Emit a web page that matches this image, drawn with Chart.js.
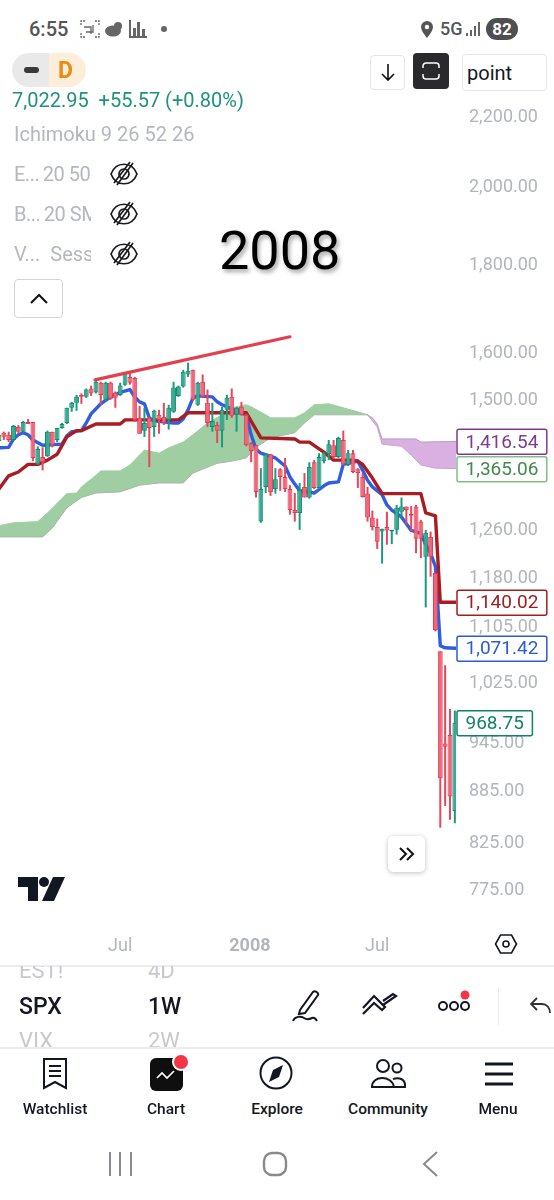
<!DOCTYPE html>
<html><head><meta charset="utf-8">
<script src="https://cdn.jsdelivr.net/npm/chart.js@4"></script>
<style>
html,body{margin:0;padding:0;background:#fff}
#page{position:relative;width:554px;height:1200px;overflow:hidden;background:#fff;font-family:Roboto,sans-serif}
#c{position:absolute;left:0;top:60px}
.t{position:absolute;white-space:nowrap;line-height:1}
.g{color:#b4b7bf;font-size:20px}
.box{position:absolute;box-sizing:border-box;background:#fff;border:1.5px solid #e6e6e8;border-radius:4px}
.nav{position:absolute;top:1102px;font-size:15.5px;font-weight:500;color:#131722;transform:translateX(-50%);white-space:nowrap;line-height:1}
svg{position:absolute;overflow:visible}
</style></head>
<body><div id="page">
<canvas id="c" width="554" height="900"></canvas>

<div class="t" style="left:29px;top:19px;font-size:20px;font-weight:500;color:#555">6:55</div>
<svg style="left:81px;top:20px" width="18" height="18" fill="none" stroke="#666" stroke-width="1.3"><path d="M0 5V1h4M14 1h4v4M18 13v4h-4M4 17H0v-4" stroke-dasharray="2 1"/><path d="M5 12h7V5M3 7h7v7"/></svg>
<svg style="left:105px;top:21px" width="20" height="16" fill="#666"><ellipse cx="8" cy="10" rx="8" ry="5.5"/><circle cx="13" cy="5" r="4"/></svg>
<svg style="left:129px;top:20px" width="18" height="18" fill="#666"><rect x="0" y="0" width="2" height="18"/><rect x="4" y="8" width="3" height="8"/><rect x="8" y="2" width="3" height="14"/><rect x="13" y="9" width="3" height="7"/><rect x="0" y="16" width="18" height="2"/></svg>
<svg style="left:161px;top:26px" width="6" height="6"><circle cx="3" cy="3" r="3" fill="#666"/></svg>
<svg style="left:420px;top:21px" width="14" height="17"><path d="M7 0a6 6 0 0 1 6 6c0 4-6 11-6 11S1 10 1 6a6 6 0 0 1 6-6z" fill="#555"/><circle cx="7" cy="6" r="2.2" fill="#fff"/></svg>
<div class="t" style="left:440px;top:20px;font-size:18px;font-weight:500;color:#555">5G</div>
<svg style="left:466px;top:21px" width="16" height="16" fill="#666"><rect x="0" y="12" width="2" height="3"/><rect x="4" y="9" width="2" height="6"/><rect x="8" y="5" width="2" height="10"/><rect x="12" y="1" width="2" height="14"/></svg>
<div class="t" style="left:486px;top:18px;width:32px;height:22px;border-radius:11px;background:#4f4f4f;color:#fff;font-size:17px;font-weight:700;line-height:22px;text-align:center">82</div>

<div style="position:absolute;left:12px;top:53px;width:37px;height:34px;background:#e9e9ea;border-radius:17px 0 0 17px"></div>
<div style="position:absolute;left:49px;top:53px;width:37px;height:34px;background:#fdeeda;border-radius:0 17px 17px 0"></div>
<div style="position:absolute;left:24px;top:67px;width:15px;height:6px;background:#3a3a3c;border-radius:3px"></div>
<div class="t" style="left:58px;top:59px;font-size:23px;font-weight:700;color:#ea8a14">D</div>
<div class="t" style="left:12px;top:90px;font-size:20px;color:#1f9278">7,022.95&nbsp; +55.57 (+0.80%)</div>
<div class="t g" style="left:14px;top:124px">Ichimoku 9 26 52 26</div>
<div class="t g" style="left:14px;top:164px;width:77px;overflow:hidden;letter-spacing:-.5px">E...&thinsp;20 50</div>
<div class="t g" style="left:14px;top:204px;width:77px;overflow:hidden;letter-spacing:-.5px">B...&thinsp;20 SM</div>
<div class="t g" style="left:14px;top:244px;width:77px;overflow:hidden">V...&nbsp; Sess</div>
<svg style="left:110px;top:162px" width="28" height="24" fill="none" stroke="#1b1b1f" stroke-width="1.7"><path d="M1 12C6 -1 22 -1 27 12 22 25 6 25 1 12z"/><circle cx="14" cy="12" r="5"/><path d="M7 23L23 1M4 21L20 0"/></svg>
<svg style="left:110px;top:202px" width="28" height="24" fill="none" stroke="#1b1b1f" stroke-width="1.7"><path d="M1 12C6 -1 22 -1 27 12 22 25 6 25 1 12z"/><circle cx="14" cy="12" r="5"/><path d="M7 23L23 1M4 21L20 0"/></svg>
<svg style="left:110px;top:242px" width="28" height="24" fill="none" stroke="#1b1b1f" stroke-width="1.7"><path d="M1 12C6 -1 22 -1 27 12 22 25 6 25 1 12z"/><circle cx="14" cy="12" r="5"/><path d="M7 23L23 1M4 21L20 0"/></svg>
<div class="box" style="left:14px;top:279px;width:49px;height:39px;border-color:#d4d4d6"></div>
<svg style="left:30px;top:293px" width="18" height="11" fill="none" stroke="#111" stroke-width="2"><path d="M1 10L9 2l8 8"/></svg>
<div class="t" style="left:219px;top:224px;font-size:54px;color:#000;text-shadow:2px 3px 4px rgba(0,0,0,.35)">2008</div>

<div class="box" style="left:370px;top:55px;width:35px;height:35px"></div>
<svg style="left:381px;top:64px" width="14" height="18" fill="none" stroke="#111" stroke-width="1.6"><path d="M7 0v16M1 10l6 6 6-6"/></svg>
<div style="position:absolute;left:413px;top:53px;width:36px;height:36px;border-radius:4px;background:#2a2a2c"></div>
<svg style="left:422px;top:62px" width="18" height="18" fill="none" stroke="#fff" stroke-width="1.5"><path d="M1 6V4a3 3 0 0 1 3-3h10a3 3 0 0 1 3 3v2M1 12v2a3 3 0 0 0 3 3h10a3 3 0 0 0 3-3v-2"/></svg>
<div class="box" style="left:462px;top:54px;width:85px;height:37px"></div>
<div class="t" style="left:467px;top:63px;font-size:20px;color:#131722">point</div>

<svg style="left:18px;top:877px" width="47" height="24" fill="#131722"><path d="M0 0h20v24H10V10H0z"/><circle cx="26" cy="5" r="5"/><path d="M35 0h12L36 24H24z"/></svg>
<div style="position:absolute;left:388px;top:836px;width:37px;height:36px;background:#fff;border-radius:5px;box-shadow:0 1px 5px rgba(0,0,0,.25)"></div>
<svg style="left:399px;top:847px" width="16" height="14" fill="none" stroke="#111" stroke-width="2"><path d="M1 1l6 6-6 6M8 1l6 6-6 6"/></svg>
<svg style="left:495px;top:933px" width="22" height="22" fill="none" stroke="#131722" stroke-width="1.6"><path d="M5.5 2h11l5 9-5 9h-11l-5-9z"/><circle cx="11" cy="11" r="3"/></svg>

<div style="position:absolute;left:0;top:965px;width:554px;height:1.5px;background:#ececee"></div>
<div style="position:absolute;left:0;top:966px;width:280px;height:81px;overflow:hidden">
  <div class="t" style="left:19px;top:-6px;font-size:22px;color:#c8c9ce">EST!</div>
  <div class="t" style="left:148px;top:-6px;font-size:22px;color:#c8c9ce">4D</div>
  <div class="t" style="left:19px;top:29px;font-size:23px;font-weight:500;color:#131722">SPX</div>
  <div class="t" style="left:148px;top:29px;font-size:23px;font-weight:500;color:#131722">1W</div>
  <div class="t" style="left:19px;top:64px;font-size:22px;color:#c8c9ce">VIX</div>
  <div class="t" style="left:148px;top:64px;font-size:22px;color:#c8c9ce">2W</div>
</div>
<div style="position:absolute;left:0;top:1047px;width:554px;height:1.5px;background:#ececee"></div>
<svg style="left:292px;top:989px" width="32" height="34" fill="none" stroke="#131722" stroke-width="2"><path d="M8 21L21 3c2-2 6 1 5 3L13 24l-6 1z"/><path d="M1 32c2-5 8-5 11-3s6 1 8 0 4 1 5 3"/></svg>
<svg style="left:362px;top:994px" width="36" height="24" fill="none" stroke="#131722" stroke-width="2.2"><path d="M1 20L12 9l8 7 3-3-11-11L1 14M14 4l7 7L34 2l-3-2-10 7"/></svg>
<svg style="left:438px;top:990px" width="32" height="24" fill="none" stroke="#131722" stroke-width="2"><circle cx="5" cy="16" r="4"/><circle cx="16" cy="16" r="4"/><circle cx="27" cy="16" r="4"/><circle cx="27" cy="5" r="4.5" fill="#f23645" stroke="none"/></svg>
<div style="position:absolute;left:498px;top:988px;width:1px;height:37px;background:#ececee"></div>
<svg style="left:530px;top:997px" width="22" height="18" fill="none" stroke="#333" stroke-width="1.8"><path d="M7 1L1 7l6 6M1 7h11c5 0 8 4 8 9"/></svg>

<svg style="left:42px;top:1058px" width="26" height="32" fill="none" stroke="#131722" stroke-width="2"><path d="M2 1h22v29l-11-6-11 6z"/><path d="M7 8h12M7 13h12M7 18h12"/></svg>
<div style="position:absolute;left:150px;top:1058px;width:33px;height:33px;border-radius:6px;background:#0f0f10"></div>
<svg style="left:156px;top:1070px" width="20" height="11" fill="none" stroke="#fff" stroke-width="1.7"><path d="M1 8l5-5 5 5 7-7"/></svg>
<div style="position:absolute;left:172px;top:1053px;width:14px;height:14px;border-radius:50%;background:#f23645;border:2px solid #fff"></div>
<svg style="left:259px;top:1056px" width="34" height="34" fill="none" stroke="#131722" stroke-width="2"><circle cx="17" cy="17" r="15.5"/><path d="M24 9L20 21l-10 5 4-12z" fill="#131722" stroke="none"/></svg>
<svg style="left:370px;top:1059px" width="36" height="30" fill="none" stroke="#131722" stroke-width="2"><circle cx="13" cy="7" r="6"/><circle cx="27" cy="9" r="4.5"/><path d="M2 28c0-12 20-12 22 0zM24 28h11c1-8-6-10-12-8"/></svg>
<svg style="left:485px;top:1062px" width="28" height="24" stroke="#131722" stroke-width="3"><path d="M0 2h28M0 12h28M0 22h28"/></svg>
<div class="nav" style="left:55px">Watchlist</div>
<div class="nav" style="left:166px">Chart</div>
<div class="nav" style="left:277px">Explore</div>
<div class="nav" style="left:388px">Community</div>
<div class="nav" style="left:498px">Menu</div>

<svg style="left:108px;top:1152px" width="25" height="24" stroke="#8a8a8e" stroke-width="2"><path d="M2 0v24M12 0v24M23 0v24"/></svg>
<svg style="left:263px;top:1152px" width="24" height="24" fill="none" stroke="#8a8a8e" stroke-width="2.4"><rect x="1" y="1" width="22" height="22" rx="8"/></svg>
<svg style="left:422px;top:1152px" width="16" height="24" fill="none" stroke="#8a8a8e" stroke-width="2"><path d="M15 0L2 12l13 12"/></svg>
</div>

<script>
/* weekly candles: prices */
const opens=[1417,1433,1429,1419,1444,1435,1454,1454,1373,1387,1388,1435,1419,1442,1452,1482,1492,1508,1504,1521,1513,1533,1498,1533,1513,1508,1529,1545,1543,1462,1437,1462,1444,1468,1464,1458,1474,1506,1525,1550,1560,1488,1535,1492,1444,1448,1437,1478,1504,1468,1484,1468,1413,1409,1271,1332,1392,1328,1364,1350,1328,1291,1286,1332,1313,1377,1330,1379,1392,1409,1387,1419,1372,1394,1364,1350,1320,1278,1262,1254,1262,1254,1257,1288,1297,1284,1297,1271,1212,1245,1186,1067,942,953,860];
const highs=[1433,1435,1435,1448,1448,1456,1460,1454,1407,1405,1437,1435,1442,1452,1482,1494,1508,1511,1521,1527,1539,1535,1535,1535,1515,1533,1554,1554,1545,1486,1482,1464,1478,1478,1492,1488,1535,1527,1560,1575,1560,1535,1550,1519,1492,1454,1484,1508,1521,1484,1494,1470,1415,1409,1366,1394,1392,1366,1366,1385,1335,1321,1339,1357,1377,1381,1394,1396,1419,1419,1425,1437,1400,1400,1366,1357,1332,1290,1276,1259,1288,1257,1300,1313,1297,1298,1300,1274,1257,1254,1186,1067,1047,987,985];
const lows=[1413,1419,1415,1417,1431,1433,1450,1379,1372,1362,1387,1405,1415,1441,1450,1474,1476,1490,1502,1506,1511,1488,1496,1498,1482,1506,1527,1529,1454,1431,1425,1368,1425,1431,1448,1439,1472,1504,1523,1545,1496,1486,1502,1444,1435,1413,1405,1458,1462,1435,1466,1407,1377,1313,1269,1321,1316,1320,1325,1323,1283,1271,1257,1313,1311,1328,1328,1375,1381,1383,1385,1372,1370,1357,1330,1313,1271,1256,1225,1201,1232,1233,1249,1279,1266,1254,1218,1210,1132,1180,1096,841,866,850,846];
const closes=[1429,1425,1419,1446,1435,1454,1450,1385,1402,1377,1435,1409,1442,1450,1482,1492,1504,1504,1519,1511,1535,1508,1533,1500,1502,1527,1552,1533,1458,1431,1452,1442,1476,1458,1452,1482,1523,1525,1556,1558,1498,1533,1504,1452,1456,1437,1478,1502,1466,1482,1468,1409,1398,1323,1328,1392,1323,1346,1350,1328,1291,1286,1327,1313,1368,1330,1387,1394,1411,1387,1423,1373,1394,1359,1357,1314,1278,1262,1237,1259,1256,1257,1295,1297,1291,1281,1242,1242,1252,1212,1098,899,938,877,968.75];

/* conversion and base lines: week, price */
const tenkanWeeks=[0,2,3,4,5,6,7,9,13,14,15,17,18,19,21,23,25,27,28,29,30,31,32,36,37,38,39,40,41,44,45,46,51,52,53,54,57,59,60,61,62,65,67,68,70,71,72,74,75,76,77,79,80,81,83,85,87,88,89,90,91,92,94,96];
const tenkanPrices=[1404,1405,1421,1429,1433,1429,1419,1409,1411,1427,1435,1437,1452,1470,1490,1504,1513,1519,1504,1494,1490,1462,1456,1452,1452,1460,1478,1502,1506,1504,1494,1488,1468,1429,1402,1394,1385,1370,1350,1337,1325,1321,1334,1339,1341,1373,1375,1379,1362,1344,1332,1318,1300,1291,1279,1256,1251,1232,1218,1196,1075,1072,1071.42,1071.42];
const kijunWeeks=[0,2,4,6,8,10,12,14,16,17,20,25,26,28,37,39,51,54,61,62,64,66,67,69,73,74,75,77,79,87,88,90,91,94,96];
const kijunPrices=[1328,1352,1359,1373,1373,1381,1392,1425,1437,1437,1450,1450,1458,1458,1458,1472,1472,1423,1421,1415,1415,1402,1396,1381,1381,1379,1373,1348,1320,1320,1286,1281,1140.02,1140.02,1140.02];

/* cloud edges */
const greenTopWeeks=[0,3,8,10,14,16,17,20,21,25,27,30,33,35,38,40,43,46,48,51,52,55,56,61,63,65,68,74,76];
const greenTopPrices=[1264,1269,1271,1286,1320,1321,1332,1353,1361,1361,1372,1400,1394,1404,1415,1429,1452,1468,1482,1488,1484,1468,1462,1462,1472,1488,1490,1474,1468];
const greenLowWeeks=[0,9,11,14,17,20,25,29,33,38,40,45,48,51,53,56,59,61,63,65,76];
const greenLowPrices=[1245,1245,1260,1295,1313,1321,1323,1335,1339,1339,1357,1375,1379,1385,1405,1423,1429,1433,1452,1468,1468];
const purpleTopWeeks=[76,77,78,79,86,87,96];
const purpleTopPrices=[1468,1462,1450,1421,1421,1415,1416.54];
const purpleLowWeeks=[76,78,79,83,85,87,90,96];
const purpleLowPrices=[1468,1444,1411,1407,1390,1372,1366,1365.06];

const trendWeeks=[19.8,60];
const trendPrices=[1539,1631];

const yTicks=[2200,2000,1800,1600,1500,1260,1180,1105,1025,945,885,825,775];
const xTickWeeks=[25,51.75,78];
const xTickLabels=['Jul','2008','Jul'];
const tagValues=[1416.54,1365.06,1140.02,1071.42,968.75];
const tagTexts=['1,416.54','1,365.06','1,140.02','1,071.42','968.75'];
const tagColors=['#7d3a91','#7fbf86','#a01d22','#2c5bd0','#13806a'];
const tagInk=['#7d3a91','#3f8a4a','#a01d22','#2c5bd0','#13806a'];

const pairs=(xs,ys)=>xs.map((x,i)=>({x,y:ys[i]}));
const isUp=i=>closes[i]>=opens[i];
const line=(xs,ys,color,width,order,extra)=>Object.assign({type:'line',data:pairs(xs,ys),borderColor:color,borderWidth:width,pointRadius:0,tension:0,order,fill:false,borderCapStyle:'round',borderJoinStyle:'round'},extra||{});

const tagPlugin={id:'tags',afterDraw(chart){
  const c=chart.ctx,y=chart.scales.y;
  c.save();c.font='19px Roboto';c.textBaseline='middle';
  tagValues.forEach((v,i)=>{
    const py=y.getPixelForValue(v),w=c.measureText(tagTexts[i]).width+17;
    c.beginPath();c.roundRect(457,py-12,w,25,2);
    c.fillStyle='#fff';c.fill();c.lineWidth=1.5;c.strokeStyle=tagColors[i];c.stroke();
    c.fillStyle=tagInk[i];c.textAlign='left';c.fillText(tagTexts[i],465.5,py+1.5);
  });
  c.restore();
}};

new Chart(document.getElementById('c'),{
  type:'bar',
  plugins:[tagPlugin],
  data:{datasets:[
    line(greenTopWeeks,greenTopPrices,'#a0cfa4',1,60,{fill:'+1',backgroundColor:'#9fcea3'}),
    line(greenLowWeeks,greenLowPrices,'#a6b6a7',1,59),
    line(purpleTopWeeks,purpleTopPrices,'#b79cc0',1,58,{fill:'+1',backgroundColor:'#dab0e2'}),
    line(purpleLowWeeks,purpleLowPrices,'#c9a5cf',1,57),
    line(tenkanWeeks,tenkanPrices,'#2f5fe0',3.4,50),
    line(kijunWeeks,kijunPrices,'#a81c22',3.4,49),
    {type:'bar',order:20,grouped:false,barThickness:2,maxBarThickness:2,inflateAmount:0,borderWidth:0,
     data:highs.map((h,i)=>({x:i,y:[lows[i],h]})),
     backgroundColor:highs.map((_,i)=>isUp(i)?'#1b9a80':'#e8465a')},
    {type:'bar',order:10,grouped:false,barThickness:4.85,maxBarThickness:4.85,inflateAmount:0,borderWidth:1,borderSkipped:false,
     data:opens.map((o,i)=>({x:i,y:[Math.min(o,closes[i]),Math.max(o,closes[i])]})),
     backgroundColor:opens.map((_,i)=>isUp(i)?'#35ac91':'#f0667a'),
     borderColor:opens.map((_,i)=>isUp(i)?'#128a72':'#e33c52')},
    line(trendWeeks,trendPrices,'#e2404f',3.2,1)
  ]},
  options:{
    responsive:false,animation:false,devicePixelRatio:window.devicePixelRatio||1,
    layout:{padding:0},
    plugins:{legend:{display:false},tooltip:{enabled:false}},
    scales:{
      x:{type:'linear',min:0.216,max:94.24,offset:false,
        grid:{display:false,drawTicks:false},border:{display:false},
        afterBuildTicks:s=>{s.ticks=xTickWeeks.map(v=>({value:v}));},
        afterFit:s=>{s.height=35;s.paddingLeft=0;s.paddingRight=0;},
        ticks:{autoSkip:false,maxRotation:0,padding:11,color:'#b2b5be',
          font:c=>({family:'Roboto',size:18,weight:c.index===1?'700':'400'}),
          callback:(v,i)=>xTickLabels[i]}},
      y:{type:'logarithmic',position:'right',bounds:'data',min:737.5,max:2369.5,
        grid:{display:false,drawTicks:false},border:{display:false},
        afterBuildTicks:s=>{s.ticks=yTicks.map(v=>({value:v}));},
        afterFit:s=>{s.width=98;s.paddingTop=0;s.paddingBottom=0;},
        ticks:{autoSkip:false,padding:13,crossAlign:'near',color:'#b2b5be',
          font:{family:'Roboto',size:18,lineHeight:'4px'},
          callback:v=>['',v.toLocaleString('en-US',{minimumFractionDigits:2,maximumFractionDigits:2})]}}
    }
  }
});
</script>
</body></html>
